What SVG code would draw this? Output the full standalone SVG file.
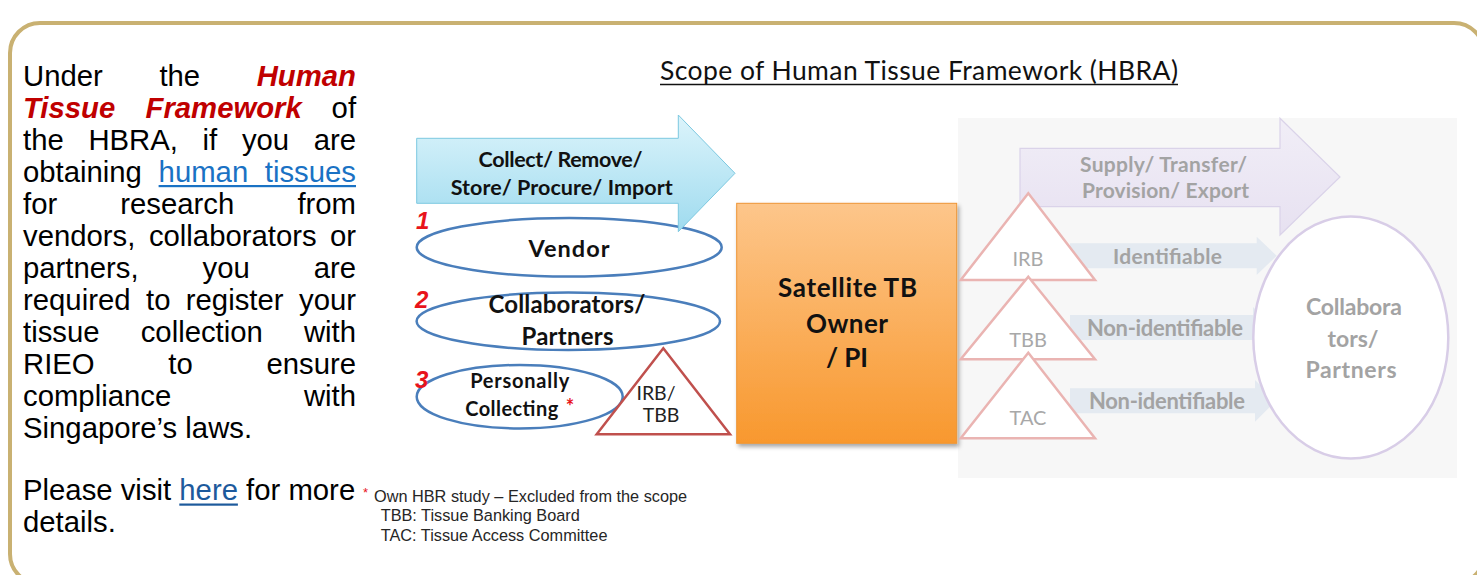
<svg xmlns="http://www.w3.org/2000/svg" width="1477" height="575" viewBox="0 0 1477 575">
<defs>
<style>
.p{font-family:"Liberation Sans",Arial,sans-serif;font-size:29.3px;fill:#000}
.em{font-weight:bold;font-style:italic;fill:#C00000}
.lk{fill:#1A72C4}
.c{font-family:Lato,"Open Sans",sans-serif;text-anchor:middle}
.b{font-weight:bold;fill:#111}
.g{font-weight:bold;fill:#A3A3A3}
.gr{fill:#A8A8A8}
.num{font-family:"Liberation Sans",Arial,sans-serif;font-weight:bold;font-style:italic;font-size:24px;fill:#E8141B}
.ell{fill:#fff;stroke:#4A7EBB;stroke-width:2.5}
.tri{fill:#fff;stroke:#EAB4B2;stroke-width:2.5}
.sa{fill:#E4EAF1}
.fn{font-family:"Liberation Sans",Arial,sans-serif;font-size:16.3px;fill:#262626}
</style>
<linearGradient id="gBlue" x1="0" y1="0" x2="0" y2="1">
<stop offset="0" stop-color="#DCF4FB"/><stop offset="1" stop-color="#9FDBEF"/>
</linearGradient>
<linearGradient id="gOrange" x1="0" y1="0" x2="0" y2="1">
<stop offset="0" stop-color="#FDC68B"/><stop offset="1" stop-color="#F8982E"/>
</linearGradient>
<linearGradient id="gPurple" x1="0" y1="0" x2="0" y2="1">
<stop offset="0" stop-color="#F1EEF7"/><stop offset="1" stop-color="#E7E1F1"/>
</linearGradient>
<filter id="sh" x="-10%" y="-10%" width="125%" height="125%">
<feDropShadow dx="2" dy="3" stdDeviation="2" flood-color="#000" flood-opacity="0.35"/>
</filter>
</defs>

<rect width="1477" height="575" fill="#fff"/>

<g id="frame">
<rect x="10" y="23" width="1474" height="561" rx="30" ry="30" fill="none" stroke="#C9B172" stroke-width="4"/>
</g>

<g id="description">
<text class="p" y="86"><tspan x="23">Under</tspan><tspan x="159.4">the</tspan><tspan x="256.7" class="em">Human</tspan></text>
<text class="p" y="118"><tspan x="23" class="em">Tissue</tspan><tspan x="145.5" class="em">Framework</tspan><tspan x="331.6">of</tspan></text>
<text class="p" y="150"><tspan x="23">the</tspan><tspan x="88.4">HBRA,</tspan><tspan x="202.5">if</tspan><tspan x="241.9">you</tspan><tspan x="313.7">are</tspan></text>
<text class="p" y="182"><tspan x="23">obtaining</tspan><tspan x="158.6" class="lk">human</tspan><tspan x="264.8" class="lk">tissues</tspan></text>
<rect x="158.6" y="185" width="197.4" height="2.2" fill="#1A72C4"/>
<text class="p" y="214"><tspan x="23">for</tspan><tspan x="120.3">research</tspan><tspan x="297.4">from</tspan></text>
<text class="p" y="246"><tspan x="23">vendors,</tspan><tspan x="148.9">collaborators</tspan><tspan x="330">or</tspan></text>
<text class="p" y="278"><tspan x="23">partners,</tspan><tspan x="202.6">you</tspan><tspan x="313.7">are</tspan></text>
<text class="p" y="310"><tspan x="23">required</tspan><tspan x="146">to</tspan><tspan x="185.8">register</tspan><tspan x="299">your</tspan></text>
<text class="p" y="342"><tspan x="23">tissue</tspan><tspan x="140.7">collection</tspan><tspan x="303.9">with</tspan></text>
<text class="p" y="374"><tspan x="23">RIEO</tspan><tspan x="168.3">to</tspan><tspan x="266.4">ensure</tspan></text>
<text class="p" y="406"><tspan x="23">compliance</tspan><tspan x="303.9">with</tspan></text>
<text class="p" x="23" y="438">Singapore’s laws.</text>
<text class="p" x="23" y="500">Please visit <tspan fill="#1D5A9C">here</tspan> for more</text>
<rect x="179.3" y="503.5" width="58.6" height="2.2" fill="#1D5A9C"/>
<text class="p" x="23" y="532">details.</text>
</g>

<g id="title">
<text class="c" x="919" y="80" font-size="26.5" fill="#111" textLength="518" lengthAdjust="spacing">Scope of Human Tissue Framework (HBRA)</text>
<line x1="660" y1="84.5" x2="1178" y2="84.5" stroke="#111" stroke-width="1.5"/>
</g>

<g id="panel">
<rect x="958" y="118" width="499" height="360" fill="#F7F7F7"/>
</g>

<g id="node-vendor">
<ellipse class="ell" cx="569.2" cy="247.3" rx="152.5" ry="29.3"/>
<text class="c b" x="569" y="256.7" font-size="23.5" textLength="81">Vendor</text>
<text class="num" x="416" y="229">1</text>
</g>

<g id="node-collaborators">
<ellipse class="ell" cx="568.3" cy="321.3" rx="151.7" ry="28.7"/>
<text class="c b" x="567" y="313.3" font-size="24" textLength="157">Collaborators/</text>
<text class="c b" x="567.5" y="345" font-size="24" textLength="92">Partners</text>
<text class="num" x="415" y="308">2</text>
</g>

<g id="node-personal">
<ellipse class="ell" cx="519.7" cy="396.7" rx="103" ry="31.7"/>
<text class="c b" x="519.7" y="388.3" font-size="20" textLength="99">Personally</text>
<text class="c b" x="511.7" y="416" font-size="20" textLength="93">Collecting</text>
<text class="c" x="570" y="414" font-size="20" font-weight="bold" fill="#E8141B">*</text>
<text class="num" x="415" y="388">3</text>
</g>

<g id="node-collect">
<path d="M416.7,138.3 H678.3 V115 L735,173.3 L678.3,231.7 V203.3 H416.7 Z" fill="url(#gBlue)" stroke="#7CC8E0" stroke-width="1"/>
<text class="c b" x="560.5" y="166.7" font-size="21.5" textLength="164">Collect/ Remove/</text>
<text class="c b" x="561.7" y="195" font-size="21.5" textLength="222">Store/ Procure/ Import</text>
</g>

<g id="node-irb-tbb">
<polygon points="663.3,348.3 730,434.3 596.7,434.3" fill="#fff" stroke="#C0504D" stroke-width="2.5"/>
<text class="c" x="656" y="400" font-size="19.5" fill="#222">IRB/</text>
<text class="c" x="661" y="421.7" font-size="19.5" fill="#222">TBB</text>
</g>

<g id="node-owner">
<rect x="736.7" y="203.3" width="220" height="240" fill="url(#gOrange)" stroke="#EE9535" stroke-width="1" filter="url(#sh)"/>
<text class="c b" x="847.5" y="296.7" font-size="26" textLength="139">Satellite TB</text>
<text class="c b" x="847" y="333" font-size="26" textLength="82">Owner</text>
<text class="c b" x="847" y="366.7" font-size="26" textLength="42">/ PI</text>
</g>

<g id="node-supply">
<path d="M1020,148.3 H1280 V118.3 L1340,177 L1280,235 V206.7 H1020 Z" fill="url(#gPurple)" stroke="#DAD3E9" stroke-width="1.2"/>
<text class="c g" x="1163.5" y="171.7" font-size="21" textLength="167">Supply/ Transfer/</text>
<text class="c g" x="1165.5" y="198.3" font-size="21" textLength="167">Provision/ Export</text>
</g>

<g id="connectors">
<path class="sa" d="M1070,243.3 H1256.7 V236.7 L1276.7,255.8 L1256.7,275 V268.3 H1070 Z"/>
<text class="c g" x="1167.5" y="264" font-size="21" textLength="109">Identifiable</text>
<path class="sa" d="M1070,315 H1253 V307 L1274,327.5 L1253,348 V340 H1070 Z"/>
<text class="c g" x="1165" y="336" font-size="22" textLength="156">Non-identifiable</text>
<path class="sa" d="M1070,388.3 H1255 V380 L1276,400.8 L1255,421.7 V413.3 H1070 Z"/>
<text class="c g" x="1167" y="409" font-size="22" textLength="156">Non-identifiable</text>
</g>

<g id="node-irb">
<polygon class="tri" points="1028.3,193.3 1095,280 960.7,280"/>
<text class="c gr" x="1028" y="265.7" font-size="20">IRB</text>
</g>
<g id="node-tbb">
<polygon class="tri" points="1028.3,276.7 1095,359.3 960.7,359.3"/>
<text class="c gr" x="1028" y="347" font-size="20">TBB</text>
</g>
<g id="node-tac">
<polygon class="tri" points="1028.3,352.7 1095,438.3 960.7,438.3"/>
<text class="c gr" x="1028" y="425" font-size="20">TAC</text>
</g>

<g id="node-partners">
<ellipse cx="1350.8" cy="337.5" rx="97.5" ry="121" fill="#fff" stroke="#D8CDE7" stroke-width="2.5"/>
<text class="c g" x="1354" y="315" font-size="23" textLength="96">Collabora</text>
<text class="c g" x="1353" y="347" font-size="23">tors/</text>
<text class="c g" x="1351" y="378.3" font-size="23" textLength="91">Partners</text>
</g>

<g id="footnote">
<text x="363" y="497" style="font-family:'Liberation Sans',Arial,sans-serif;font-size:13px;fill:#E8141B">*</text>
<text class="fn" x="374" y="501.5">Own HBR study – Excluded from the scope</text>
<text class="fn" x="380.7" y="521">TBB: Tissue Banking Board</text>
<text class="fn" x="380.7" y="541">TAC: Tissue Access Committee</text>
</g>
</svg>
